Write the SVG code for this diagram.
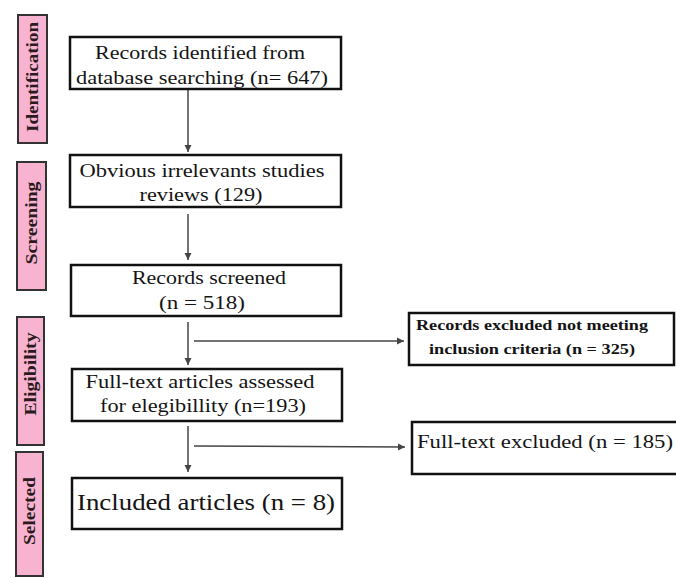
<svg xmlns="http://www.w3.org/2000/svg" width="676" height="578" viewBox="0 0 676 578">
<style>
.box{fill:#fff;stroke:#111;stroke-width:2.5}
.side{fill:#f7b3cf;stroke:#333;stroke-width:2}
.t{font-family:'Liberation Serif','DejaVu Serif',serif;font-size:18px;fill:#141414;text-anchor:middle}
.tb{font-family:'Liberation Serif','DejaVu Serif',serif;font-size:14px;font-weight:bold;fill:#141414;text-anchor:middle}
.st{font-family:'Liberation Serif','DejaVu Serif',serif;font-size:16px;font-weight:bold;fill:#2a1a20;text-anchor:middle}
.c{stroke:#444;stroke-width:1.5;fill:none}
</style>
<defs>
<marker id="ah" markerWidth="8" markerHeight="8" refX="7" refY="4" orient="auto" markerUnits="userSpaceOnUse">
<path d="M0,0.5 L7,4 L0,7.5 Z" fill="#444"/>
</marker>
</defs>
<g id="side-identification"><rect class="side" x="18" y="15" width="29" height="128"/><text class="st" transform="translate(38,77) rotate(-90)" textLength="110" lengthAdjust="spacingAndGlyphs">Identification</text></g>
<g id="side-screening"><rect class="side" x="17" y="162" width="29" height="128"/><text class="st" transform="translate(37,223) rotate(-90)" textLength="83" lengthAdjust="spacingAndGlyphs">Screening</text></g>
<g id="side-eligibility"><rect class="side" x="17" y="317" width="27" height="128"/><text class="st" transform="translate(36,374) rotate(-90)" textLength="83" lengthAdjust="spacingAndGlyphs">Eligibility</text></g>
<g id="side-selected"><rect class="side" x="16" y="452" width="27" height="124"/><text class="st" transform="translate(35,511) rotate(-90)" textLength="68" lengthAdjust="spacingAndGlyphs">Selected</text></g>

<g id="connectors">
<line class="c" x1="188" y1="90" x2="188" y2="152" marker-end="url(#ah)"/>
<line class="c" x1="188" y1="214" x2="188" y2="260" marker-end="url(#ah)"/>
<line class="c" x1="188" y1="322" x2="188" y2="365" marker-end="url(#ah)"/>
<line class="c" x1="194" y1="341" x2="404" y2="341" marker-end="url(#ah)"/>
<line class="c" x1="188" y1="426" x2="188" y2="472" marker-end="url(#ah)"/>
<line class="c" x1="194" y1="446" x2="405" y2="447" marker-end="url(#ah)"/>
</g>

<g id="n1"><rect class="box" x="70" y="37" width="271" height="52"/>
<text class="t" x="200" y="59" textLength="210" lengthAdjust="spacingAndGlyphs">Records identified from</text>
<text class="t" x="202" y="84" textLength="252" lengthAdjust="spacingAndGlyphs">database searching (n= 647)</text></g>

<g id="n2"><rect class="box" x="70" y="155" width="271" height="52"/>
<text class="t" x="202" y="177" textLength="245" lengthAdjust="spacingAndGlyphs">Obvious irrelevants studies</text>
<text class="t" x="201" y="201" textLength="123" lengthAdjust="spacingAndGlyphs">reviews (129)</text></g>

<g id="n3"><rect class="box" x="71" y="265" width="270" height="51"/>
<text class="t" x="209" y="284" textLength="154" lengthAdjust="spacingAndGlyphs">Records screened</text>
<text class="t" x="202" y="309" textLength="86" lengthAdjust="spacingAndGlyphs">(n = 518)</text></g>

<g id="n4"><rect class="box" x="72" y="369" width="270" height="52"/>
<text class="t" x="200" y="388" textLength="229" lengthAdjust="spacingAndGlyphs">Full-text articles assessed</text>
<text class="t" x="203" y="412" textLength="206" lengthAdjust="spacingAndGlyphs">for elegibillity (n=193)</text></g>

<g id="n5"><rect class="box" x="409" y="313" width="265" height="52"/>
<text class="tb" x="532" y="330" textLength="232" lengthAdjust="spacingAndGlyphs">Records excluded not meeting</text>
<text class="tb" x="532" y="354" textLength="206" lengthAdjust="spacingAndGlyphs">inclusion criteria (n = 325)</text></g>

<g id="n6"><rect class="box" x="72" y="478" width="270" height="51"/>
<text class="t" x="206" y="510" style="font-size:23px" textLength="258" lengthAdjust="spacingAndGlyphs">Included articles (n = 8)</text></g>

<g id="n7"><rect class="box" x="412" y="422" width="266" height="52"/>
<text class="t" x="545" y="448" textLength="256" lengthAdjust="spacingAndGlyphs">Full-text excluded (n = 185)</text></g>
</svg>
